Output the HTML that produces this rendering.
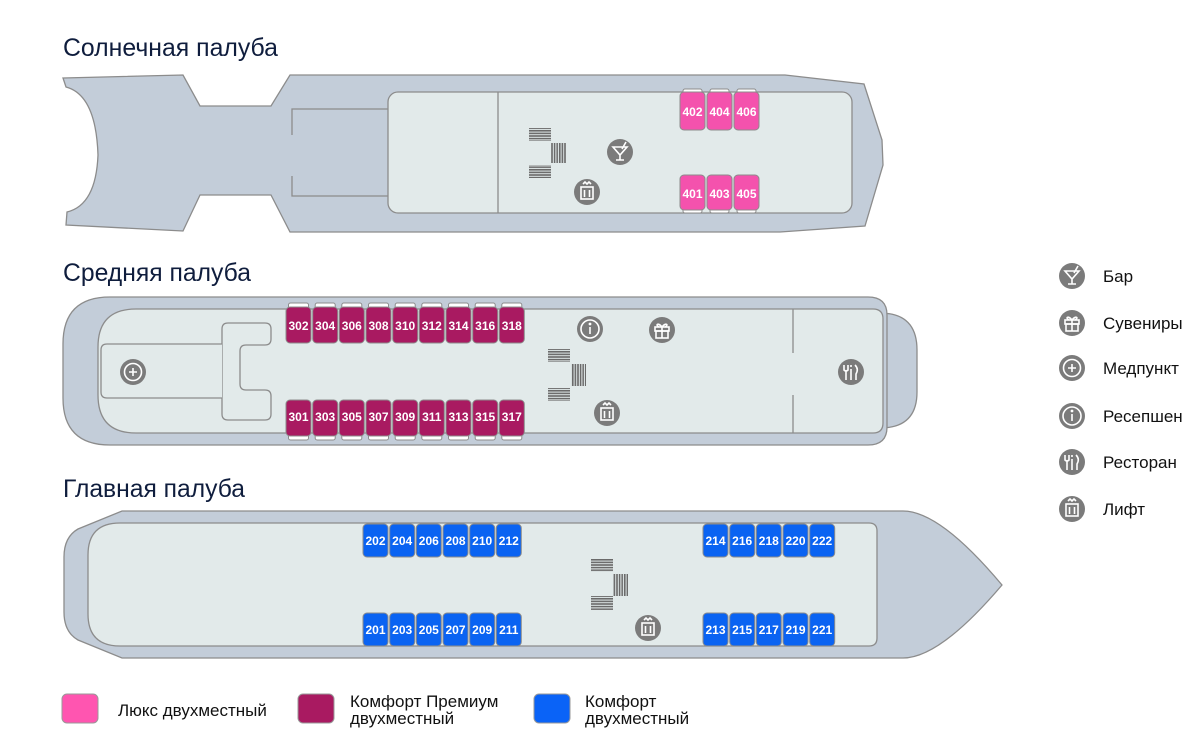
<!DOCTYPE html>
<html><head><meta charset="utf-8"><style>
html,body{margin:0;padding:0;background:#fff;}
svg{display:block;font-family:"Liberation Sans",sans-serif;}
.t{font-size:25px;fill:#0f1d3d;}
.c{font-size:12px;font-weight:bold;fill:#fff;text-anchor:middle;}
.lg{font-size:17px;fill:#111;}
.hull{fill:#c3cdd9;stroke:#8c8c8c;stroke-width:1.3;}
.in{fill:#e2eaea;stroke:#8c8c8c;stroke-width:1.3;}
.ln{stroke:#8c8c8c;stroke-width:1.3;fill:none;}
.p{fill:#f452ad;stroke:#8c8c8c;stroke-width:1;}
.m{fill:#a91a61;stroke:#8c8c8c;stroke-width:1;}
.b{fill:#0a63f2;stroke:#8c8c8c;stroke-width:1;}
.bump{fill:#fff;stroke:#8c8c8c;stroke-width:1;}
.ic{fill:#7b7b7b;}
.w{stroke:#fff;stroke-width:1.6;fill:none;}
</style></head><body>
<svg width="1200" height="756" viewBox="0 0 1200 756" xmlns="http://www.w3.org/2000/svg">
<defs>
<pattern id="hp" width="4" height="2.6" patternUnits="userSpaceOnUse"><rect width="4" height="1.6" fill="#6a6a6a"/></pattern>
<pattern id="vp" width="2.6" height="4" patternUnits="userSpaceOnUse"><rect width="1.6" height="4" fill="#6a6a6a"/></pattern>
<g id="lift"><circle r="13" class="ic"/><rect x="-6" y="-5" width="12" height="12" class="w" stroke-width="1.3"/><line x1="-2.5" y1="-2" x2="-2.5" y2="5" class="w" stroke-width="1.8"/><line x1="2.5" y1="-2" x2="2.5" y2="5" class="w" stroke-width="1.8"/><path d="M-4 -8 l2 -2 l2 2 l2 -2 l2 2" class="w" stroke-width="1"/></g>
<g id="bar"><circle r="13" class="ic"/><path d="M-7 -5 L7 -5 L0 3 Z M0 3 L0 8 M-4 8 L4 8 M2 -3 L6 -10" class="w"/></g>
<g id="gift"><circle r="13" class="ic"/><rect x="-7" y="-3" width="14" height="4" class="w"/><rect x="-6" y="1" width="12" height="7" class="w"/><path d="M0 -3 L0 8 M0 -3 C-4 -8 -7 -5 -3 -3 M0 -3 C4 -8 7 -5 3 -3" class="w"/></g>
<g id="med"><circle r="13" class="ic"/><circle r="8.5" class="w" stroke-width="2"/><path d="M0 -4 L0 4 M-4 0 L4 0" class="w" stroke-width="2.6"/></g>
<g id="info"><circle r="13" class="ic"/><circle r="9" class="w" stroke-width="2"/><path d="M0 -2 L0 5" class="w" stroke-width="2.4"/><circle cy="-5" r="1.4" fill="#fff"/></g>
<g id="rest"><circle r="13" class="ic"/><path d="M-7 -7 L-7 -2 Q-5 0 -3 -2 L-3 -7 M-5 -1 L-5 8 M0 -3 L0 8 M0 -7 L0 -5 M4 -7 Q8 -3 5 2 L5 8" class="w" stroke-width="1.4"/></g>
</defs>

<text x="63" y="56" class="t" textLength="215" lengthAdjust="spacingAndGlyphs">Солнечная палуба</text>
<text x="63" y="281" class="t" textLength="188" lengthAdjust="spacingAndGlyphs">Средняя палуба</text>
<text x="63" y="497" class="t" textLength="182" lengthAdjust="spacingAndGlyphs">Главная палуба</text>

<!-- SUN DECK -->
<path class="hull" d="M63 78 L183 75 L200 106 L271 106 L290 75 L785 75 L864 84 L882 140 L883 165 L865 226 L780 232 L290 232 L271 195 L200 195 L183 231 L66 225 L67 212 Q96 205 98 155 Q96 95 66 87 Z"/>
<rect class="in" x="388" y="92" width="464" height="121" rx="10"/>
<line class="ln" x1="498" y1="92" x2="498" y2="213"/>
<path class="ln" d="M388 109 L292 109 L292 135 M292 176 L292 196 L388 196"/>
<rect x="529" y="128" width="22" height="13" fill="url(#hp)"/>
<rect x="551" y="143" width="15" height="20" fill="url(#vp)"/>
<rect x="529" y="165" width="22" height="13" fill="url(#hp)"/>
<use href="#bar" x="620" y="152"/>
<use href="#lift" x="587" y="192"/>
<g>
<rect class="bump" x="683" y="89" width="19" height="6" rx="2"/><rect class="bump" x="710" y="89" width="19" height="6" rx="2"/><rect class="bump" x="737" y="89" width="19" height="6" rx="2"/>
<rect class="p" x="680" y="92" width="25" height="38" rx="4"/><rect class="p" x="707" y="92" width="25" height="38" rx="4"/><rect class="p" x="734" y="92" width="25" height="38" rx="4"/>
<text class="c" x="692.5" y="116">402</text><text class="c" x="719.5" y="116">404</text><text class="c" x="746.5" y="116">406</text>
<rect class="bump" x="683" y="207" width="19" height="6" rx="2"/><rect class="bump" x="710" y="207" width="19" height="6" rx="2"/><rect class="bump" x="737" y="207" width="19" height="6" rx="2"/>
<rect class="p" x="680" y="175" width="25" height="35" rx="4"/><rect class="p" x="707" y="175" width="25" height="35" rx="4"/><rect class="p" x="734" y="175" width="25" height="35" rx="4"/>
<text class="c" x="692.5" y="198">401</text><text class="c" x="719.5" y="198">403</text><text class="c" x="746.5" y="198">405</text>
</g>

<!-- MIDDLE DECK -->
<path class="hull" d="M880 313 Q917 313 917 350 L917 392 Q917 428 880 428 Z"/>
<path class="hull" d="M110 297 L868 297 Q887 297 887 315 L887 427 Q887 445 868 445 L110 445 Q63 445 63 398 L63 344 Q63 297 110 297 Z"/>
<path class="in" d="M136 309 L873 309 Q883 309 883 319 L883 423 Q883 433 873 433 L136 433 Q98 433 98 395 L98 347 Q98 309 136 309 Z"/>
<line class="ln" x1="793" y1="309" x2="793" y2="353"/><line class="ln" x1="793" y1="395" x2="793" y2="433"/>
<path class="in" d="M228 323 L265 323 Q271 323 271 329 L271 339 Q271 345 265 345 L246 345 Q240 345 240 351 L240 384 Q240 390 246 390 L265 390 Q271 390 271 396 L271 414 Q271 420 265 420 L228 420 Q222 420 222 414 L222 329 Q222 323 228 323 Z"/>
<path class="in" d="M222 344 L107 344 Q101 344 101 350 L101 392 Q101 398 107 398 L222 398"/>
<use href="#med" x="133" y="372"/>
<use href="#info" x="590" y="329"/>
<use href="#gift" x="662" y="330"/>
<use href="#lift" x="607" y="413"/>
<use href="#rest" x="851" y="372"/>
<rect x="548" y="349" width="22" height="13" fill="url(#hp)"/>
<rect x="571" y="364" width="15" height="22" fill="url(#vp)"/>
<rect x="548" y="388" width="22" height="13" fill="url(#hp)"/>
<g>
<rect class="bump" x="288.5" y="303" width="20" height="6" rx="2"/><rect class="bump" x="315.2" y="303" width="20" height="6" rx="2"/><rect class="bump" x="341.8" y="303" width="20" height="6" rx="2"/><rect class="bump" x="368.5" y="303" width="20" height="6" rx="2"/><rect class="bump" x="395.2" y="303" width="20" height="6" rx="2"/><rect class="bump" x="421.8" y="303" width="20" height="6" rx="2"/><rect class="bump" x="448.5" y="303" width="20" height="6" rx="2"/><rect class="bump" x="475.2" y="303" width="20" height="6" rx="2"/><rect class="bump" x="501.8" y="303" width="20" height="6" rx="2"/>
<rect class="bump" x="288.5" y="434" width="20" height="6" rx="2"/><rect class="bump" x="315.2" y="434" width="20" height="6" rx="2"/><rect class="bump" x="341.8" y="434" width="20" height="6" rx="2"/><rect class="bump" x="368.5" y="434" width="20" height="6" rx="2"/><rect class="bump" x="395.2" y="434" width="20" height="6" rx="2"/><rect class="bump" x="421.8" y="434" width="20" height="6" rx="2"/><rect class="bump" x="448.5" y="434" width="20" height="6" rx="2"/><rect class="bump" x="475.2" y="434" width="20" height="6" rx="2"/><rect class="bump" x="501.8" y="434" width="20" height="6" rx="2"/>
<rect class="m" x="286" y="307" width="25" height="36" rx="4"/><rect class="m" x="312.7" y="307" width="25" height="36" rx="4"/><rect class="m" x="339.3" y="307" width="25" height="36" rx="4"/><rect class="m" x="366" y="307" width="25" height="36" rx="4"/><rect class="m" x="392.7" y="307" width="25" height="36" rx="4"/><rect class="m" x="419.3" y="307" width="25" height="36" rx="4"/><rect class="m" x="446" y="307" width="25" height="36" rx="4"/><rect class="m" x="472.7" y="307" width="25" height="36" rx="4"/><rect class="m" x="499.3" y="307" width="25" height="36" rx="4"/>
<text class="c" x="298.5" y="330">302</text><text class="c" x="325.2" y="330">304</text><text class="c" x="351.8" y="330">306</text><text class="c" x="378.5" y="330">308</text><text class="c" x="405.2" y="330">310</text><text class="c" x="431.8" y="330">312</text><text class="c" x="458.5" y="330">314</text><text class="c" x="485.2" y="330">316</text><text class="c" x="511.8" y="330">318</text>
<rect class="m" x="286" y="400" width="25" height="36" rx="4"/><rect class="m" x="312.7" y="400" width="25" height="36" rx="4"/><rect class="m" x="339.3" y="400" width="25" height="36" rx="4"/><rect class="m" x="366" y="400" width="25" height="36" rx="4"/><rect class="m" x="392.7" y="400" width="25" height="36" rx="4"/><rect class="m" x="419.3" y="400" width="25" height="36" rx="4"/><rect class="m" x="446" y="400" width="25" height="36" rx="4"/><rect class="m" x="472.7" y="400" width="25" height="36" rx="4"/><rect class="m" x="499.3" y="400" width="25" height="36" rx="4"/>
<text class="c" x="298.5" y="421">301</text><text class="c" x="325.2" y="421">303</text><text class="c" x="351.8" y="421">305</text><text class="c" x="378.5" y="421">307</text><text class="c" x="405.2" y="421">309</text><text class="c" x="431.8" y="421">311</text><text class="c" x="458.5" y="421">313</text><text class="c" x="485.2" y="421">315</text><text class="c" x="511.8" y="421">317</text>
</g>

<!-- MAIN DECK -->
<path class="hull" d="M122 511 L903 511 Q940 511 1002 585 Q940 658 903 658 L122 658 L78 640 Q64 632 64 612 L64 557 Q64 537 78 529 Z"/>
<path class="in" d="M120 523 L869 523 Q877 523 877 531 L877 638 Q877 646 869 646 L120 646 Q88 646 88 614 L88 555 Q88 523 120 523 Z"/>
<rect x="591" y="559" width="22" height="13" fill="url(#hp)"/>
<rect x="613" y="574" width="15" height="22" fill="url(#vp)"/>
<rect x="591" y="596" width="22" height="14" fill="url(#hp)"/>
<use href="#lift" x="648" y="628"/>
<g>
<rect class="b" x="363" y="524" width="25" height="33" rx="4"/><rect class="b" x="389.7" y="524" width="25" height="33" rx="4"/><rect class="b" x="416.3" y="524" width="25" height="33" rx="4"/><rect class="b" x="443" y="524" width="25" height="33" rx="4"/><rect class="b" x="469.7" y="524" width="25" height="33" rx="4"/><rect class="b" x="496.3" y="524" width="25" height="33" rx="4"/>
<text class="c" x="375.5" y="545">202</text><text class="c" x="402.2" y="545">204</text><text class="c" x="428.8" y="545">206</text><text class="c" x="455.5" y="545">208</text><text class="c" x="482.2" y="545">210</text><text class="c" x="508.8" y="545">212</text>
<rect class="b" x="363" y="613" width="25" height="33" rx="4"/><rect class="b" x="389.7" y="613" width="25" height="33" rx="4"/><rect class="b" x="416.3" y="613" width="25" height="33" rx="4"/><rect class="b" x="443" y="613" width="25" height="33" rx="4"/><rect class="b" x="469.7" y="613" width="25" height="33" rx="4"/><rect class="b" x="496.3" y="613" width="25" height="33" rx="4"/>
<text class="c" x="375.5" y="634">201</text><text class="c" x="402.2" y="634">203</text><text class="c" x="428.8" y="634">205</text><text class="c" x="455.5" y="634">207</text><text class="c" x="482.2" y="634">209</text><text class="c" x="508.8" y="634">211</text>
<rect class="b" x="703" y="524" width="25" height="33" rx="4"/><rect class="b" x="729.7" y="524" width="25" height="33" rx="4"/><rect class="b" x="756.3" y="524" width="25" height="33" rx="4"/><rect class="b" x="783" y="524" width="25" height="33" rx="4"/><rect class="b" x="809.7" y="524" width="25" height="33" rx="4"/>
<text class="c" x="715.5" y="545">214</text><text class="c" x="742.2" y="545">216</text><text class="c" x="768.8" y="545">218</text><text class="c" x="795.5" y="545">220</text><text class="c" x="822.2" y="545">222</text>
<rect class="b" x="703" y="613" width="25" height="33" rx="4"/><rect class="b" x="729.7" y="613" width="25" height="33" rx="4"/><rect class="b" x="756.3" y="613" width="25" height="33" rx="4"/><rect class="b" x="783" y="613" width="25" height="33" rx="4"/><rect class="b" x="809.7" y="613" width="25" height="33" rx="4"/>
<text class="c" x="715.5" y="634">213</text><text class="c" x="742.2" y="634">215</text><text class="c" x="768.8" y="634">217</text><text class="c" x="795.5" y="634">219</text><text class="c" x="822.2" y="634">221</text>
</g>

<use href="#bar" x="1072" y="276"/><text class="lg" x="1103" y="282">Бар</text>
<use href="#gift" x="1072" y="323"/><text class="lg" x="1103" y="329">Сувениры</text>
<use href="#med" x="1072" y="368"/><text class="lg" x="1103" y="374">Медпункт</text>
<use href="#info" x="1072" y="416"/><text class="lg" x="1103" y="422">Ресепшен</text>
<use href="#rest" x="1072" y="462"/><text class="lg" x="1103" y="468">Ресторан</text>
<use href="#lift" x="1072" y="509"/><text class="lg" x="1103" y="515">Лифт</text>

<rect x="62" y="694" width="36" height="29" rx="5" fill="#ff55b0" stroke="#999"/>
<text class="lg" x="118" y="716">Люкс двухместный</text>
<rect x="298" y="694" width="36" height="29" rx="5" fill="#a91a61" stroke="#999"/>
<text class="lg" x="350" y="707">Комфорт Премиум</text>
<text class="lg" x="350" y="724">двухместный</text>
<rect x="534" y="694" width="36" height="29" rx="5" fill="#0a63f7" stroke="#999"/>
<text class="lg" x="585" y="707">Комфорт</text>
<text class="lg" x="585" y="724">двухместный</text>
</svg>
</body></html>
